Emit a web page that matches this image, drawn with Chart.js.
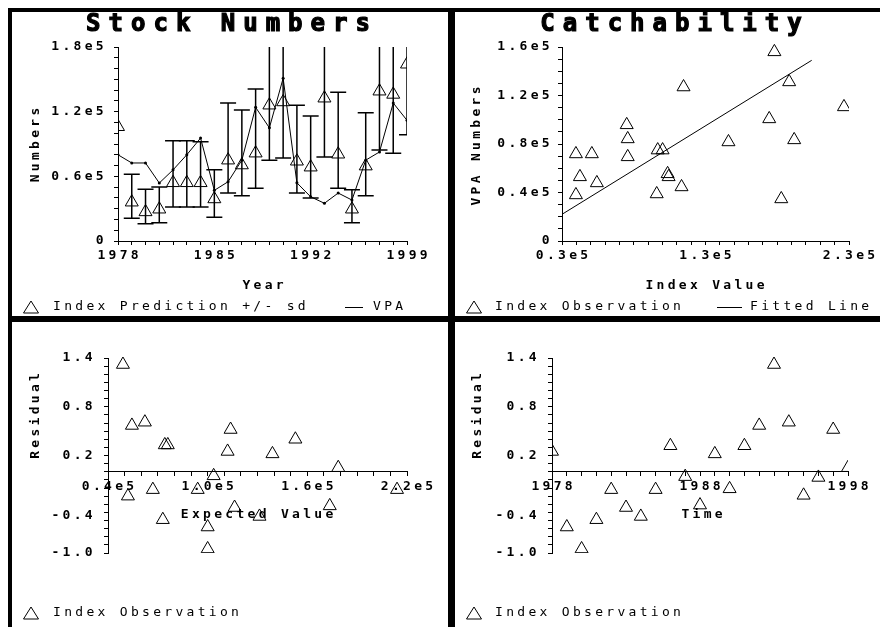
<!DOCTYPE html>
<html>
<head>
<meta charset="utf-8">
<title>Index diagnostics</title>
<script src="https://cdn.jsdelivr.net/npm/chart.js@4.4.1/dist/chart.umd.min.js"></script>
<style>
  html, body { margin: 0; padding: 0; background: #fff; }
  #page { position: relative; width: 880px; height: 627px; overflow: hidden; }
  #page canvas { position: absolute; left: 0; top: 0; }
  .rule { position: absolute; background: #000; }
</style>
</head>
<body>
<div id="page">
  <canvas id="stockChart" width="880" height="627"></canvas>
  <canvas id="catchChart" width="880" height="627"></canvas>
  <canvas id="residExpChart" width="880" height="627"></canvas>
  <canvas id="residTimeChart" width="880" height="627"></canvas>
  <div class="rule" style="left:8px;top:8px;width:872px;height:4px"></div>
  <div class="rule" style="left:8px;top:8px;width:4px;height:619px"></div>
  <div class="rule" style="left:448px;top:8px;width:7px;height:619px"></div>
  <div class="rule" style="left:8px;top:316px;width:872px;height:6px"></div>
</div>
<script>
// --- data ---
const stockYears = [1978, 1979, 1980, 1981, 1982, 1983, 1984, 1985, 1986, 1987, 1988,
  1989, 1990, 1991, 1992, 1993, 1994, 1995, 1996, 1997, 1998, 1999];
const indexPrediction = [106000, 36000, 27000, 29500, 54000, 54000, 54000, 39000, 75000, 70500, 81500,
  126000, 129000, 74000, 68500, 132500, 80500, 29500, 69500, 139000, 136000, 164000];
const predictionLow = [null, 21000, 16000, 17000, 31500, 31500, 31500, 22000, 44500, 42000, 49000,
  75000, 77000, 44500, 40000, 78000, 49000, 17000, 42000, 84500, 81500, 98500];
const predictionHigh = [null, 62000, 48000, 50000, 93000, 93000, 92000, 66000, 128000, 121500, 141000,
  218000, 222000, 126000, 116000, 232000, 138000, 47500, 119000, 236000, 233000, 281000];
const vpaNumbers = [80000, 72400, 72400, 53800, 66000, 80000, 95500, 47000, 55000, 75000, 124000,
  105000, 151000, 54000, 41000, 35000, 44500, 38000, 75000, 82600, 128000, 112000];

const catchIndex = [39700, 50800, 75100, 75800, 75800, 96700, 100100, 114700, 146000, 178000, 188300,
  174400, 191800, 226500, 182800, 42500, 39700, 54300, 96000, 103600, 104300, 113300];
const catchVpa = [71800, 71800, 95800, 84200, 69400, 75000, 75000, 127000, 81700, 156000, 131200,
  100700, 83400, 110600, 34700, 52900, 38000, 47900, 38800, 55400, 52900, 44600];
const fittedIndex = [30000, 204000];
const fittedVpa = [22000, 149000];

const expectedValue = [49000, 54400, 62200, 74200, 76000, 103600, 113800, 112000, 139000, 152800, 178600,
  52000, 67000, 73000, 94000, 100000, 100000, 116200, 131200, 173500, 214000];
const residualByExpected = [1.32, 0.57, 0.61, 0.33, 0.33, -0.05, 0.52, 0.25, 0.22, 0.40, 0.05,
  -0.30, -0.22, -0.59, -0.22, -0.68, -0.95, -0.44, -0.55, -0.42, -0.22];

const residualYears = [1978, 1979, 1980, 1981, 1982, 1983, 1984, 1985, 1986, 1987, 1988,
  1989, 1990, 1991, 1992, 1993, 1994, 1995, 1996, 1997, 1998];
const residualByYear = [0.25, -0.68, -0.95, -0.59, -0.22, -0.44, -0.55, -0.22, 0.32, -0.06, -0.41,
  0.22, -0.21, 0.32, 0.57, 1.32, 0.61, -0.29, -0.07, 0.52, 0.05];

// --- tick labels ---
function e5Label(every, start) {
  return (v) => {
    if (v === 0) return '0';
    if ((v - start) % every !== 0) return '';
    return (v / 1e5).toFixed(1) + 'e5';
  };
}
function yearLabel(start, every) {
  return (v) => ((v - start) % every === 0 ? String(v) : '');
}
function residualLabel(v) {
  const k = Math.round((v + 1) * 10);
  if (k % 6 !== 0) return '';
  // the -0.4 label sits a little below its tick in the original
  return k === 6 ? ['', v.toFixed(1)] : v.toFixed(1);
}

// --- plot helpers ---
const FONT = '"DejaVu Sans Mono", "Liberation Mono", monospace';
const SPACING = 3.3;
Chart.defaults.font.family = FONT;
Chart.defaults.color = '#000';
Chart.defaults.animation = false;

function points(xs, ys) {
  return xs.map((x, i) => ({ x: x, y: ys[i] }));
}

// size = room kept for the labels next to the axis
function linearAxis(min, max, step, label, pad, size, lineHeight) {
  return {
    type: 'linear',
    min: min,
    max: max,
    grid: { drawOnChartArea: false, color: '#000', tickLength: 4 },
    border: { color: '#000', width: 1 },
    ticks: {
      stepSize: step,
      autoSkip: false,
      maxRotation: 0,
      minRotation: 0,
      padding: pad,
      color: '#000',
      font: { size: 13, weight: 'bold', lineHeight: lineHeight || 1.2 },
      callback: label,
    },
    afterFit: (scale) => {
      if (scale.isHorizontal()) scale.height = size;
      else scale.width = size;
    },
  };
}

function xAxis(min, max, step, label, position) {
  const axis = linearAxis(min, max, step, label, 3, 30);
  axis.ticks.labelOffset = SPACING / 2;
  axis.position = position || 'bottom';
  return axis;
}

const Y_ROOM = 95;
function padFor(area, xRoom) {
  return {
    left: area.left - Y_ROOM,
    top: area.top,
    right: 880 - area.right,
    bottom: 627 - area.bottom - xRoom,
  };
}

const triangleStyle = {
  pointStyle: 'triangle',
  pointRadius: 7.5,
  pointBorderWidth: 1,
  pointBorderColor: '#000',
  pointBackgroundColor: 'rgba(0,0,0,0)',
  showLine: false,
};

// letter-spaced bitmap-like text for the ticks
const spacedTicks = {
  id: 'spacedTicks',
  beforeDraw(chart) {
    chart.ctx.letterSpacing = SPACING + 'px';
  },
};

const errorBars = {
  id: 'errorBars',
  afterDatasetsDraw(chart, args, opts) {
    const { ctx, chartArea, scales } = chart;
    ctx.save();
    ctx.beginPath();
    ctx.rect(chartArea.left, chartArea.top, chartArea.right - chartArea.left, chartArea.bottom - chartArea.top);
    ctx.clip();
    ctx.strokeStyle = '#000';
    ctx.lineWidth = 1.5;
    opts.xs.forEach((xv, i) => {
      if (opts.low[i] == null) return;
      const px = scales.x.getPixelForValue(xv);
      const lo = scales.y.getPixelForValue(opts.low[i]);
      const hi = scales.y.getPixelForValue(opts.high[i]);
      ctx.beginPath();
      ctx.moveTo(px, lo);
      ctx.lineTo(px, hi);
      ctx.moveTo(px - opts.cap, lo);
      ctx.lineTo(px + opts.cap, lo);
      ctx.moveTo(px - opts.cap, hi);
      ctx.lineTo(px + opts.cap, hi);
      ctx.stroke();
    });
    ctx.restore();
  },
};

function drawText(ctx, item) {
  const spacing = item.spacing || SPACING;
  ctx.save();
  ctx.font = (item.weight || 'bold') + ' ' + (item.size || 13) + 'px ' + FONT;
  ctx.letterSpacing = spacing + 'px';
  ctx.fillStyle = '#000';
  ctx.strokeStyle = '#000';
  ctx.textBaseline = 'middle';
  ctx.textAlign = item.align || 'center';
  ctx.translate(item.x, item.y);
  if (item.rotate) ctx.rotate(item.rotate);
  const dx = ctx.textAlign === 'center' ? spacing / 2 : 0;
  ctx.fillText(item.text, dx, 0);
  if (item.heavy) {
    ctx.lineWidth = item.heavy;
    ctx.strokeText(item.text, dx, 0);
  }
  ctx.restore();
}

function drawLegendMark(ctx, mark) {
  ctx.save();
  ctx.strokeStyle = '#000';
  ctx.lineWidth = 1;
  ctx.beginPath();
  if (mark.kind === 'triangle') {
    ctx.moveTo(mark.x, mark.y - 6);
    ctx.lineTo(mark.x + 7.5, mark.y + 6);
    ctx.lineTo(mark.x - 7.5, mark.y + 6);
    ctx.closePath();
  } else {
    ctx.moveTo(mark.x, mark.y + 0.5);
    ctx.lineTo(mark.x + mark.len, mark.y + 0.5);
  }
  ctx.stroke();
  ctx.restore();
}

const panelText = {
  id: 'panelText',
  afterDraw(chart, args, opts) {
    (opts.texts || []).forEach((t) => drawText(chart.ctx, t));
    (opts.marks || []).forEach((m) => drawLegendMark(chart.ctx, m));
  },
};

const VERTICAL = -Math.PI / 2;
const titleFont = { size: 24, weight: 'bold', spacing: 8, heavy: 1.2 };
const legendFont = { size: 13, weight: 'normal', spacing: SPACING, align: 'left' };

function baseOptions(area, xRoom) {
  return {
    responsive: false,
    events: [],
    layout: { padding: padFor(area, xRoom), autoPadding: false },
  };
}

// --- Stock Numbers ---
const stockArea = { left: 118, top: 47, right: 407, bottom: 241 };
new Chart(document.getElementById('stockChart'), {
  type: 'scatter',
  data: {
    datasets: [
      {
        label: 'VPA',
        data: points(stockYears, vpaNumbers),
        showLine: true,
        borderColor: '#000',
        borderWidth: 1,
        pointRadius: 1.5,
        pointBorderWidth: 0,
        pointBackgroundColor: '#000',
      },
      Object.assign({ label: 'Index Prediction +/- sd', data: points(stockYears, indexPrediction) }, triangleStyle),
    ],
  },
  options: Object.assign(baseOptions(stockArea, 30), {
    scales: {
      x: xAxis(1978, 1999, 1, yearLabel(1978, 7)),
      y: linearAxis(0, 180000, 10000, e5Label(60000, 0), 7, Y_ROOM),
    },
    plugins: {
      legend: { display: false },
      tooltip: { enabled: false },
      errorBars: { xs: stockYears, low: predictionLow, high: predictionHigh, cap: 8 },
      panelText: {
        texts: [
          Object.assign({ text: 'Stock Numbers', x: 228, y: 25 }, titleFont),
          { text: 'Year', x: 263, y: 286 },
          { text: 'Numbers', x: 36, y: 145, rotate: VERTICAL },
          Object.assign({ text: 'Index Prediction +/- sd', x: 53, y: 307 }, legendFont),
          Object.assign({ text: 'VPA', x: 373, y: 307 }, legendFont),
        ],
        marks: [
          { kind: 'triangle', x: 31, y: 307 },
          { kind: 'line', x: 345, y: 307, len: 18 },
        ],
      },
    },
  }),
  plugins: [spacedTicks, errorBars, panelText],
});

// --- Catchability ---
const catchArea = { left: 562, top: 47, right: 849, bottom: 241 };
new Chart(document.getElementById('catchChart'), {
  type: 'scatter',
  data: {
    datasets: [
      Object.assign({
        label: 'Index Observation',
        data: points(catchIndex, catchVpa),
        clip: { left: 0, top: false, right: 0, bottom: 0 },
      }, triangleStyle),
      {
        label: 'Fitted Line',
        data: points(fittedIndex, fittedVpa),
        showLine: true,
        borderColor: '#000',
        borderWidth: 1,
        pointRadius: 0,
      },
    ],
  },
  options: Object.assign(baseOptions(catchArea, 30), {
    scales: {
      x: xAxis(30000, 230000, 10000, e5Label(100000, 30000)),
      y: linearAxis(0, 160000, 10000, e5Label(40000, 0), 5, Y_ROOM),
    },
    plugins: {
      legend: { display: false },
      tooltip: { enabled: false },
      panelText: {
        texts: [
          Object.assign({ text: 'Catchability', x: 671, y: 25 }, titleFont),
          { text: 'Index Value', x: 705, y: 286 },
          { text: 'VPA Numbers', x: 477, y: 146, rotate: VERTICAL },
          Object.assign({ text: 'Index Observation', x: 495, y: 307 }, legendFont),
          Object.assign({ text: 'Fitted Line', x: 750, y: 307 }, legendFont),
        ],
        marks: [
          { kind: 'triangle', x: 474, y: 307 },
          { kind: 'line', x: 717, y: 307, len: 25 },
        ],
      },
    },
  }),
  plugins: [spacedTicks, panelText],
});

// --- Residual vs expected value ---
const residExpArea = { left: 108, top: 358, right: 407, bottom: 553 };
new Chart(document.getElementById('residExpChart'), {
  type: 'scatter',
  data: {
    datasets: [
      Object.assign({
        label: 'Index Observation',
        data: points(expectedValue, residualByExpected),
        clip: { left: 0, top: false, right: 0, bottom: 0 },
      }, triangleStyle),
    ],
  },
  options: Object.assign(baseOptions(residExpArea, 0), {
    scales: {
      x: xAxis(40000, 220000, 10000, e5Label(60000, 40000), { y: 0 }),
      y: linearAxis(-1.0, 1.4, 0.1, residualLabel, 8, Y_ROOM, 1.7),
    },
    plugins: {
      legend: { display: false },
      tooltip: { enabled: false },
      panelText: {
        texts: [
          { text: 'Expected Value', x: 257, y: 515 },
          { text: 'Residual', x: 36, y: 416, rotate: VERTICAL },
          Object.assign({ text: 'Index Observation', x: 53, y: 613 }, legendFont),
        ],
        marks: [{ kind: 'triangle', x: 31, y: 613 }],
      },
    },
  }),
  plugins: [spacedTicks, panelText],
});

// --- Residual vs time ---
const residTimeArea = { left: 552, top: 358, right: 848, bottom: 553 };
new Chart(document.getElementById('residTimeChart'), {
  type: 'scatter',
  data: {
    datasets: [
      Object.assign({
        label: 'Index Observation',
        data: points(residualYears, residualByYear),
        clip: { left: 0, top: false, right: 0, bottom: 0 },
      }, triangleStyle),
    ],
  },
  options: Object.assign(baseOptions(residTimeArea, 0), {
    scales: {
      x: xAxis(1978, 1998, 1, yearLabel(1978, 10), { y: 0 }),
      y: linearAxis(-1.0, 1.4, 0.1, residualLabel, 8, Y_ROOM, 1.7),
    },
    plugins: {
      legend: { display: false },
      tooltip: { enabled: false },
      panelText: {
        texts: [
          { text: 'Time', x: 702, y: 515 },
          { text: 'Residual', x: 478, y: 416, rotate: VERTICAL },
          Object.assign({ text: 'Index Observation', x: 495, y: 613 }, legendFont),
        ],
        marks: [{ kind: 'triangle', x: 474, y: 613 }],
      },
    },
  }),
  plugins: [spacedTicks, panelText],
});
</script>
</body>
</html>
